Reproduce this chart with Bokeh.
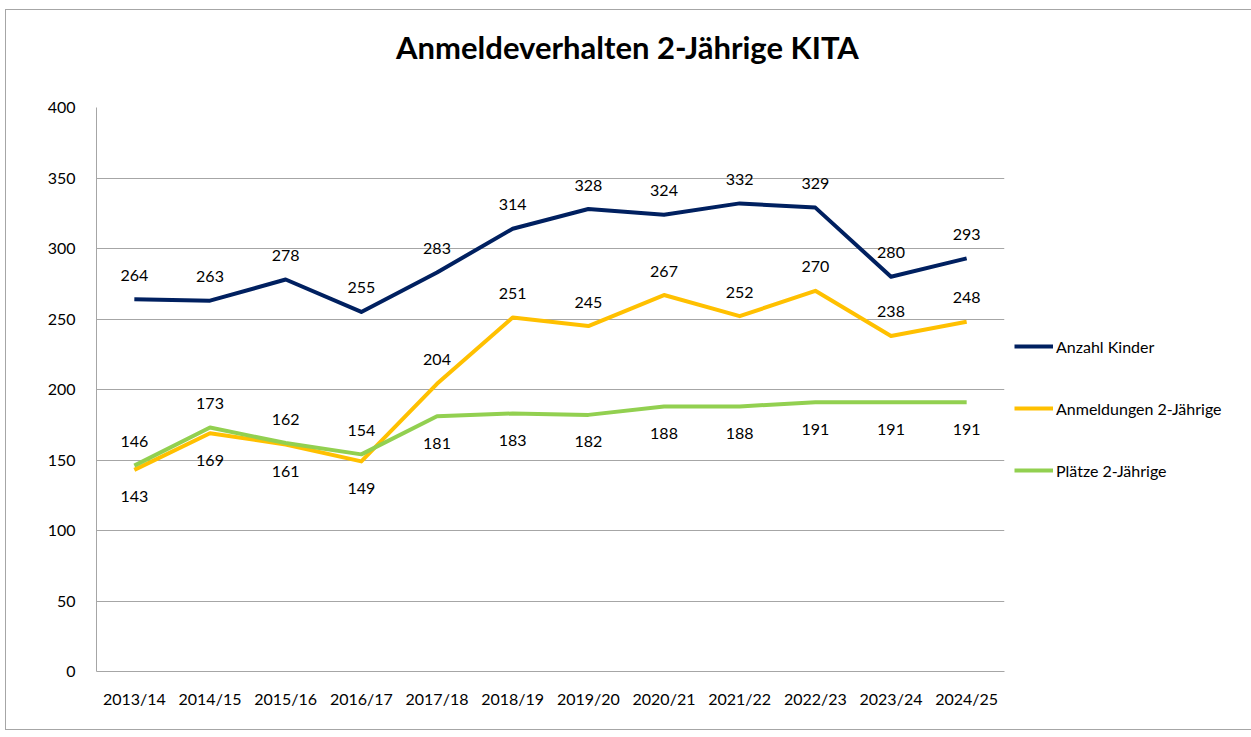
from bokeh.plotting import figure
from bokeh.models import ColumnDataSource, Range1d, FactorRange, SingleIntervalTicker, Legend, LegendItem, Label
from bokeh.core.properties import value
from bokeh.embed import file_html
from bokeh.resources import INLINE

# ---- data ----
years = ["2013/14", "2014/15", "2015/16", "2016/17", "2017/18", "2018/19",
         "2019/20", "2020/21", "2021/22", "2022/23", "2023/24", "2024/25"]
anzahl_kinder = [264, 263, 278, 255, 283, 314, 328, 324, 332, 329, 280, 293]
anmeldungen = [143, 169, 161, 149, 204, 251, 245, 267, 252, 270, 238, 248]
plaetze = [146, 173, 162, 154, 181, 183, 182, 188, 188, 191, 191, 191]

series_names = ["Anzahl Kinder", "Anmeldungen 2-Jährige", "Plätze 2-Jährige"]
series_values = [anzahl_kinder, anmeldungen, plaetze]
series_colors = ["#002060", "#FFC000", "#92D050"]
# label placement: "a" = above, "b" = below
label_pos = [
    ["a"] * 12,
    ["b"] * 4 + ["a"] * 8,
    ["a"] * 4 + ["b"] * 8,
]
title_text = "Anmeldeverhalten 2-Jährige KITA"

FONT = "Lato"
OFF = {"a": -24, "b": 27}

p = figure(
    x_range=FactorRange(factors=years, range_padding=0),
    y_range=Range1d(0, 400),
    frame_width=908, frame_height=564,
    min_border_left=90, min_border_right=240,
    min_border_top=97, min_border_bottom=58,
    output_backend="svg", toolbar_location=None,
    background_fill_color="white", border_fill_color="white",
)
p.styles = {"border": "1px solid #a6a6a6", "margin-left": "5px", "margin-top": "9px"}
p.outline_line_color = None

# title as a label in the top panel
title = Label(x=531, y=61, x_units="screen", y_units="screen", text=title_text,
              text_font=FONT, text_font_style="bold", text_font_size="31px",
              text_color="black", text_align="center", text_baseline="middle")
p.add_layout(title, "above")

# axes
for ax in (p.yaxis[0], p.xaxis[0]):
    ax.axis_line_color = "#a6a6a6"
    ax.major_tick_line_color = None
    ax.minor_tick_line_color = None
    ax.major_tick_out = 0
    ax.major_tick_in = 0
    ax.major_label_text_font = FONT
    ax.major_label_text_font_size = "16px"
    ax.major_label_text_color = "black"
p.yaxis[0].ticker = SingleIntervalTicker(interval=50)
p.yaxis[0].major_label_standoff = 17
p.xaxis[0].major_label_standoff = 17

p.xgrid.grid_line_color = None
p.ygrid.grid_line_color = "#a6a6a6"
p.ygrid.grid_line_width = 1

items = []
for name, vals, col, pos in zip(series_names, series_values, series_colors, label_pos):
    src = ColumnDataSource(dict(
        x=years, y=vals, t=[str(v) for v in vals], off=[OFF[q] for q in pos]))
    r = p.line("x", "y", source=src, line_color=col, line_width=4, line_join="round")
    p.text("x", "y", text="t", source=src, y_offset="off",
           text_font=value(FONT), text_font_size="16px", text_color="black",
           text_align="center", text_baseline="middle")
    items.append(LegendItem(label=name, renderers=[r]))

legend = Legend(items=items, location=(10, 191))
legend.glyph_width = 39
legend.glyph_height = 20
legend.label_height = 20
legend.spacing = 42
legend.padding = 0
legend.margin = 0
legend.label_standoff = 3
legend.border_line_color = None
legend.background_fill_alpha = 0
legend.label_text_font = FONT
legend.label_text_font_size = "16px"
legend.label_text_color = "black"
p.add_layout(legend, "right")

open("out.html", "w").write(file_html(p, INLINE))
